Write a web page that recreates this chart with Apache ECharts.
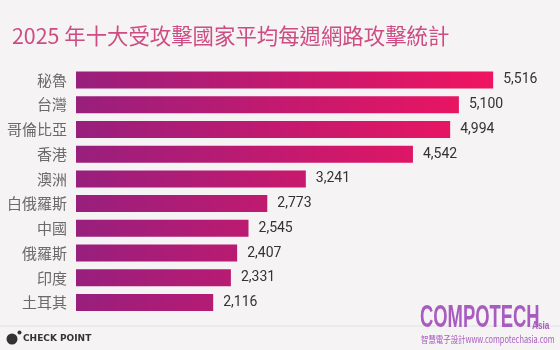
<!DOCTYPE html>
<html>
<head>
<meta charset="utf-8">
<script src="https://cdn.jsdelivr.net/npm/echarts@6/dist/echarts.min.js"></script>
<style>
html,body{margin:0;padding:0;background:#f5f3f3;}
#c{width:560px;height:350px;}
</style>
</head>
<body>
<div id="c"></div>
<script>
var titleText = '2025 年十大受攻擊國家平均每週網路攻擊統計';
var countries = ['秘魯','台灣','哥倫比亞','香港','澳洲','白俄羅斯','中國','俄羅斯','印度','土耳其'];
var attacks = [5516, 5100, 4994, 4542, 3241, 2773, 2545, 2407, 2331, 2116];

var chart = echarts.init(document.getElementById('c'), null, {renderer:'canvas'});
var grad = new echarts.graphic.LinearGradient(76, 0, 493, 0, [
  {offset:0, color:'#981f7d'},
  {offset:1, color:'#ef1460'}
], true);

chart.setOption({
  backgroundColor: '#f5f3f3',
  animation: false,
  title: {
    text: titleText,
    left: 7, top: 20,
    textStyle: {color:'#cc4d83', fontSize:21.4, fontWeight:'normal', fontFamily:'"Noto Sans CJK TC", "Noto Sans", sans-serif'}
  },
  grid: {left:76, top:67.6, width:457, height:247.3, containLabel:false},
  xAxis: {
    type:'value', min:450, max:6000, show:false
  },
  yAxis: {
    type:'category', data: countries, inverse:true,
    axisLine:{show:false}, axisTick:{show:false},
    axisLabel:{color:'#6a6a6a', fontSize:15, margin:9, fontFamily:'"Noto Sans CJK TC", sans-serif'}
  },
  series: [{
    type:'bar', data: attacks, barWidth:17,
    itemStyle:{color: grad},
    label:{
      show:true, position:'right', distance:10,
      color:'#333', fontSize:14, fontFamily:'Roboto, sans-serif',
      formatter: function(p){ return p.value.toLocaleString('en-US'); }
    }
  }],
  graphic: [
    {type:'line', shape:{x1:0, y1:326, x2:560, y2:326}, style:{stroke:'#e2e0e0', lineWidth:1}},
    {type:'circle', shape:{cx:12, cy:339, r:5.5}, style:{fill:'#333'}},
    {type:'circle', shape:{cx:19.5, cy:332.5, r:2}, style:{fill:'#333'}},
    {type:'text', x:23, y:334, style:{text:'CHECK POINT', fill:'#333', font:'bold 9px "DejaVu Sans", sans-serif'}},
    {type:'text', x:420, y:302, scaleX:0.575, style:{text:'COMPOTECH', fill:'#a85cc0', font:'bold 32px "Liberation Sans", sans-serif'}},
    {type:'text', x:532, y:320, scaleX:0.75, style:{text:'Asia', fill:'#a85cc0', font:'bold 11px "Liberation Sans", sans-serif'}},
    {type:'text', x:421, y:335, scaleX:0.78, style:{text:'智慧電子設計www.compotechasia.com', fill:'#a85cc0', font:'9.5px "Noto Sans CJK TC", sans-serif'}}
  ]
});
</script>
</body>
</html>
